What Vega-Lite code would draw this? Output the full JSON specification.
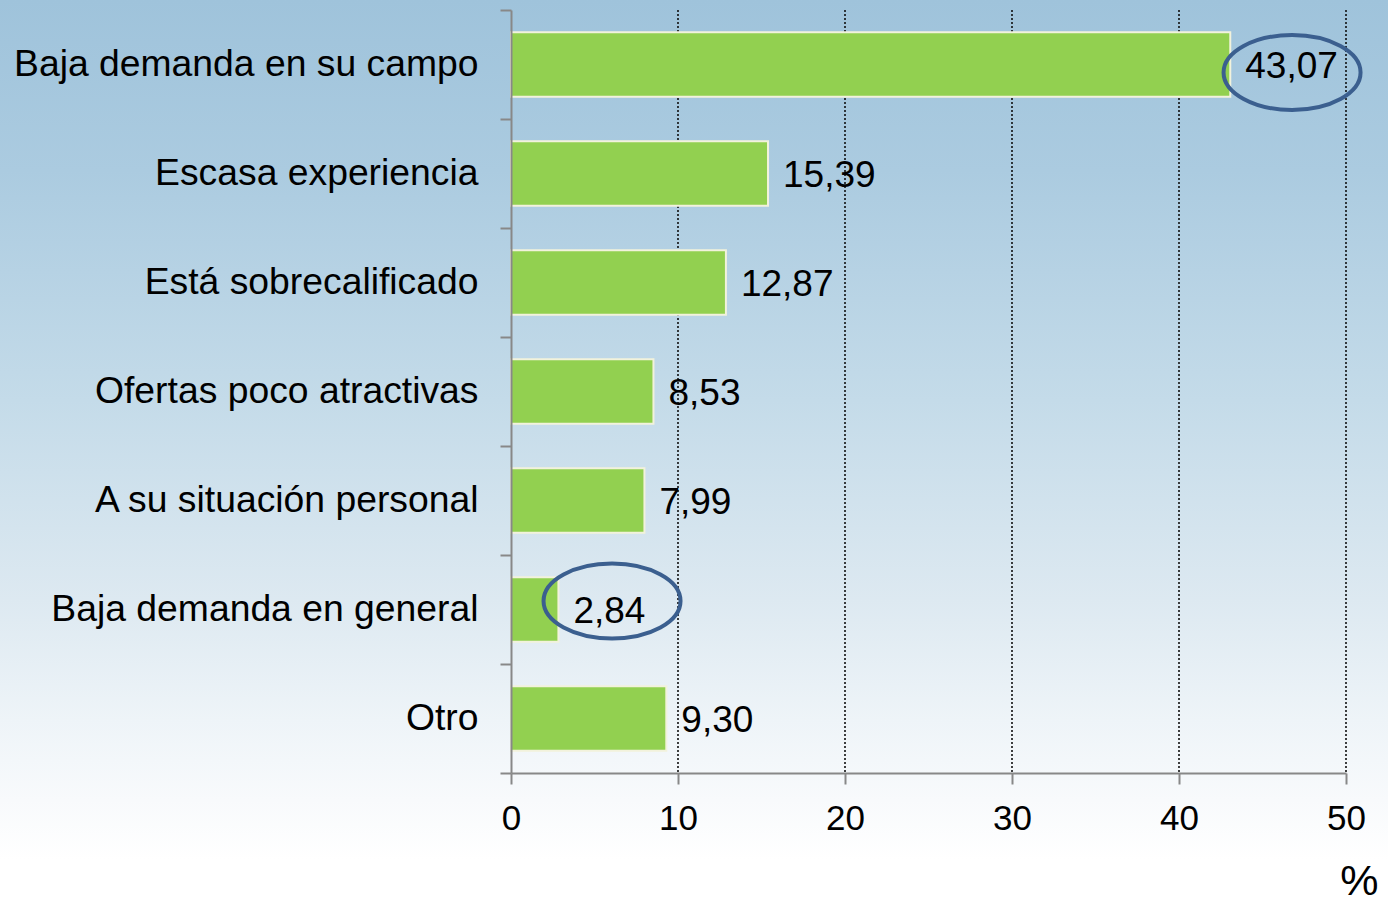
{
  "$schema": "https://vega.github.io/schema/vega-lite/v6.json",
  "width": 835,
  "height": 763,
  "autosize": {"type": "none"},
  "padding": {"left": 511, "top": 10, "right": 42, "bottom": 133},
  "background": "#ffffff",
  "config": {"view": {"stroke": null}, "font": "Liberation Sans"},
  "resolve": {"scale": {"x": "independent", "y": "independent"}},
  "layer": [
    {
      "data": {"values": [{"bx1": -0.7, "bx2": 1.1, "by1": -0.2, "by2": 1.05}]},
      "mark": {
        "type": "rect",
        "clip": false,
        "stroke": null,
        "fill": {
          "gradient": "linear",
          "x1": 0, "y1": 0, "x2": 0, "y2": 1,
          "stops": [
            {"offset": 0, "color": "#9dc2da"},
            {"offset": 0.0295, "color": "#9fc3db"},
            {"offset": 0.2078, "color": "#abcbe0"},
            {"offset": 0.4489, "color": "#c4dbe9"},
            {"offset": 0.6586, "color": "#dde9f1"},
            {"offset": 0.7844, "color": "#eef4f8"},
            {"offset": 0.8683, "color": "#f8fafc"},
            {"offset": 0.9312, "color": "#ffffff"},
            {"offset": 1, "color": "#ffffff"}
          ]
        }
      },
      "encoding": {
        "x": {"field": "bx1", "type": "quantitative", "scale": {"domain": [0, 1], "nice": false, "zero": false}, "axis": null},
        "x2": {"field": "bx2"},
        "y": {"field": "by1", "type": "quantitative", "scale": {"domain": [0, 1], "nice": false, "zero": false}, "axis": null},
        "y2": {"field": "by2"}
      }
    },
    {
      "data": {
        "values": [
          {"cat": "Baja demanda en su campo", "v": 43.07, "label": "43,07", "ell": 46.77},
          {"cat": "Escasa experiencia", "v": 15.39, "label": "15,39", "ell": null},
          {"cat": "Está sobrecalificado", "v": 12.87, "label": "12,87", "ell": null},
          {"cat": "Ofertas poco atractivas", "v": 8.53, "label": "8,53", "ell": null},
          {"cat": "A su situación personal", "v": 7.99, "label": "7,99", "ell": null},
          {"cat": "Baja demanda en general", "v": 2.84, "label": "2,84", "ell": 6.05},
          {"cat": "Otro", "v": 9.30, "label": "9,30", "ell": null}
        ]
      },
      "layer": [
        {
          "data": {"values": [{"g": 10}, {"g": 20}, {"g": 30}, {"g": 40}, {"g": 50}]},
          "mark": {"type": "rule", "color": "#111111", "strokeWidth": 1.6, "strokeDash": [2, 2]},
          "encoding": {
            "x": {"field": "g", "type": "quantitative", "scale": {"domain": [0, 50], "nice": false, "zero": true}}
          }
        },
        {
          "mark": {"type": "bar", "height": {"band": 0.59}, "fill": "#92d050", "stroke": "#f2f2dc", "strokeWidth": 2},
          "encoding": {
            "x": {
              "field": "v", "type": "quantitative",
              "scale": {"domain": [0, 50], "nice": false, "zero": true},
              "axis": {
                "values": [0, 10, 20, 30, 40, 50],
                "grid": false,
                "domainColor": "#888888", "domainWidth": 2,
                "tickColor": "#888888", "tickWidth": 2, "tickSize": 11,
                "labelFontSize": 35, "labelColor": "#000000", "labelPadding": 17,
                "labelFont": "Liberation Sans", "labelFlush": false, "labelOverlap": false,
                "title": "%", "titleFontSize": 43, "titleFontWeight": "normal", "titleColor": "#000000",
                "titleFont": "Liberation Sans",
                "titleAnchor": "end", "titleAlign": "right", "titleX": 867, "titleY": 121,
                "titleBaseline": "alphabetic",
                "zindex": 1
              }
            },
            "y": {
              "field": "cat", "type": "nominal", "sort": null,
              "scale": {"paddingInner": 0, "paddingOuter": 0},
              "axis": {
                "title": null,
                "tickBand": "extent",
                "domainColor": "#888888", "domainWidth": 2,
                "tickColor": "#888888", "tickWidth": 2, "tickSize": 11,
                "labelFontSize": 37.3, "labelColor": "#000000", "labelPadding": 22,
                "labelFont": "Liberation Sans", "labelLimit": 700,
                "zindex": 1
              }
            }
          }
        },
        {
          "mark": {"type": "text", "align": "left", "baseline": "middle", "dx": 15, "dy": 2, "fontSize": 37, "color": "#000000", "font": "Liberation Sans"},
          "encoding": {
            "x": {"field": "v", "type": "quantitative"},
            "y": {"field": "cat", "type": "nominal", "sort": null},
            "text": {"field": "label"}
          }
        },
        {
          "transform": [{"filter": "datum.cat === 'Baja demanda en su campo'"}],
          "mark": {"type": "point", "shape": "M-1,0A1,0.547 0 1,1 1,0A1,0.547 0 1,1 -1,0Z", "size": 18769, "filled": false, "color": "#3b5f8f", "strokeWidth": 4, "opacity": 1, "yOffset": 8},
          "encoding": {
            "x": {"field": "ell", "type": "quantitative"},
            "y": {"field": "cat", "type": "nominal", "sort": null}
          }
        },
        {
          "transform": [{"filter": "datum.cat === 'Baja demanda en general'"}],
          "mark": {"type": "point", "shape": "M-1,0A1,0.547 0 1,1 1,0A1,0.547 0 1,1 -1,0Z", "size": 18769, "filled": false, "color": "#3b5f8f", "strokeWidth": 4, "opacity": 1, "yOffset": -8.5},
          "encoding": {
            "x": {"field": "ell", "type": "quantitative"},
            "y": {"field": "cat", "type": "nominal", "sort": null}
          }
        }
      ]
    }
  ]
}
